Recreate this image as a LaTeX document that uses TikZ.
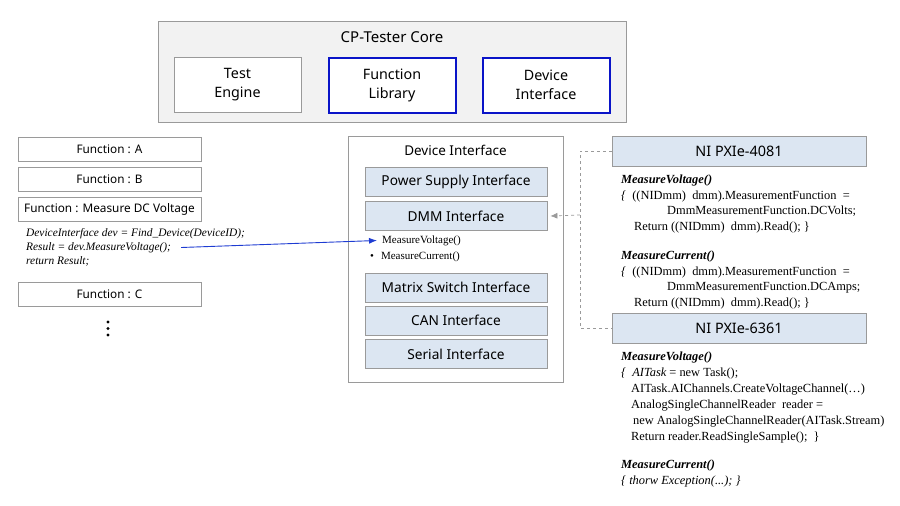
\documentclass[tikz,border=0pt]{standalone}
\usepackage{fontspec}
\setmainfont{Liberation Serif}
\newfontfamily\uifont{Noto Sans}
\usetikzlibrary{arrows.meta}
\definecolor{coregray}{HTML}{F2F2F2}
\definecolor{edgegray}{HTML}{9A9A9A}
\definecolor{ifblue}{HTML}{DCE6F2}
\definecolor{libblue}{HTML}{0A14C8}
\definecolor{arrblue}{HTML}{1E3CD2}
\tikzset{
  uibox/.style={draw=edgegray, line width=0.8pt, font=\uifont\fontsize{13}{15}\selectfont, align=center, inner sep=0pt},
  corebox/.style={uibox, fill=white, minimum width=127pt, minimum height=55pt, font=\uifont\fontsize{14.3}{19}\selectfont},
  bluebox/.style={corebox, draw=libblue, line width=2pt},
  funcbox/.style={uibox, fill=white, minimum width=183pt, minimum height=24pt, font=\uifont\fontsize{11.8}{13}\selectfont},
  ifbox/.style={uibox, fill=ifblue, minimum width=182pt, minimum height=29pt, font=\uifont\fontsize{13.7}{15}\selectfont},
  devbox/.style={uibox, fill=ifblue, minimum width=254pt, minimum height=30pt, font=\uifont\fontsize{14.4}{16}\selectfont},
  codeline/.style={anchor=west, inner sep=0pt, font=\fontsize{11.4}{12}\selectfont\itshape},
  code/.style={anchor=north west, inner sep=0pt, align=left, font=\fontsize{12.4}{15.5}\selectfont},
  dashlink/.style={draw=edgegray, dashed, line width=0.7pt},
  dotmark/.style={circle, fill=black, inner sep=0pt, minimum size=3.4pt}
}
\begin{document}
\begin{tikzpicture}[x=1pt,y=-1pt]
\useasboundingbox (0,0) rectangle (900,506);
% core
\node[draw=edgegray, fill=coregray, line width=0.8pt, minimum width=468pt, minimum height=101pt, inner sep=0pt] (core) at (392,71.5) {};
\node[font=\uifont\fontsize{15}{17}\selectfont, inner sep=0pt] (coretitle) at (392,37) {CP-Tester Core};
\node[corebox] (engine) at (237.5,85) {Test\\Engine};
\node[bluebox] (flib) at (392,85) {Function\\Library};
\node[bluebox] (dint) at (546,85) {Device\\Interface};
% functions
\node[funcbox] (fa) at (109.5,149) {Function : A};
\node[funcbox] (fb) at (109.5,179) {Function : B};
\node[funcbox] (fm) at (109.5,209) {Function : Measure DC Voltage};
\node[codeline] (c1) at (26,233.5) {DeviceInterface dev = Find\_Device(DeviceID);};
\node[codeline] (c2) at (26,247.5) {Result = dev.MeasureVoltage();};
\node[codeline] (c3) at (26,261) {return Result;};
\node[funcbox] (fc) at (109.5,294) {Function : C};
\node[dotmark] (dot1) at (108,322) {};
\node[dotmark] (dot2) at (108,328.5) {};
\node[dotmark] (dot3) at (108,335) {};
% device interface
\node[draw=edgegray, fill=white, line width=0.8pt, minimum width=215pt, minimum height=246pt, inner sep=0pt] (devif) at (455.5,259) {};
\node[font=\uifont\fontsize{13.5}{15}\selectfont, inner sep=0pt] (devtitle) at (455.5,150) {Device Interface};
\node[ifbox] (psi) at (456,182) {Power Supply Interface};
\node[ifbox] (dmm) at (456,216) {DMM Interface};
\node[anchor=west, inner sep=0pt, font=\fontsize{11}{12}\selectfont] (mv) at (382,240.5) {MeasureVoltage()};
\node[anchor=west, inner sep=0pt, font=\fontsize{11}{12}\selectfont] (mc) at (370,256.5) {\textbullet\hspace{7pt}MeasureCurrent()};
\node[ifbox] (msi) at (456,287.5) {Matrix Switch Interface};
\node[ifbox] (cani) at (456,320.5) {CAN Interface};
\node[ifbox] (seri) at (456,354) {Serial Interface};
% devices
\node[devbox] (d4081) at (739,151) {NI PXIe-4081};
\node[devbox] (d6361) at (739,328) {NI PXIe-6361};
\node[code] (code4081) at (621,175) {\textbf{\textit{MeasureVoltage()}}\\
{\itshape\{}\ \ ((NIDmm)\ \ dmm).MeasurementFunction\ \ =\\
\hspace{46pt}DmmMeasurementFunction.DCVolts;\\
\hspace{13pt}Return ((NIDmm)\ \ dmm).Read(); \}\\[14pt]
\textbf{\textit{MeasureCurrent()}}\\
{\itshape\{}\ \ ((NIDmm)\ \ dmm).MeasurementFunction\ \ =\\
\hspace{46pt}DmmMeasurementFunction.DCAmps;\\
\hspace{13pt}Return ((NIDmm)\ \ dmm).Read(); \}};
\node[code, font=\fontsize{12.4}{15.9}\selectfont] (code6361) at (621,352) {\textbf{\textit{MeasureVoltage()}}\\
{\itshape\{\ \ AITask} = new Task();\\
\hspace{10pt}AITask.AIChannels.CreateVoltageChannel(\dots)\\
\hspace{10pt}AnalogSingleChannelReader\ \ reader =\\
\hspace{12pt}new AnalogSingleChannelReader(AITask.Stream)\\
\hspace{10pt}Return reader.ReadSingleSample();\ \ \}\\[12pt]
\textbf{\textit{MeasureCurrent()}}\\
{\itshape\{ thorw Exception(...); \}}};
% connectors
\coordinate (bus) at (580,215);
\draw[dashlink] (d4081.west) -| (bus) |- (d6361.west);
\draw[dashlink, -{Latex[length=7pt,width=6pt]}] (bus) -- ([xshift=3pt]dmm.east);
\draw[arrblue, line width=0.9pt, -{Latex[length=8pt,width=6pt]}] ([xshift=10pt]c2.east) -- ([xshift=-5pt]mv.west);
\end{tikzpicture}
\end{document}
